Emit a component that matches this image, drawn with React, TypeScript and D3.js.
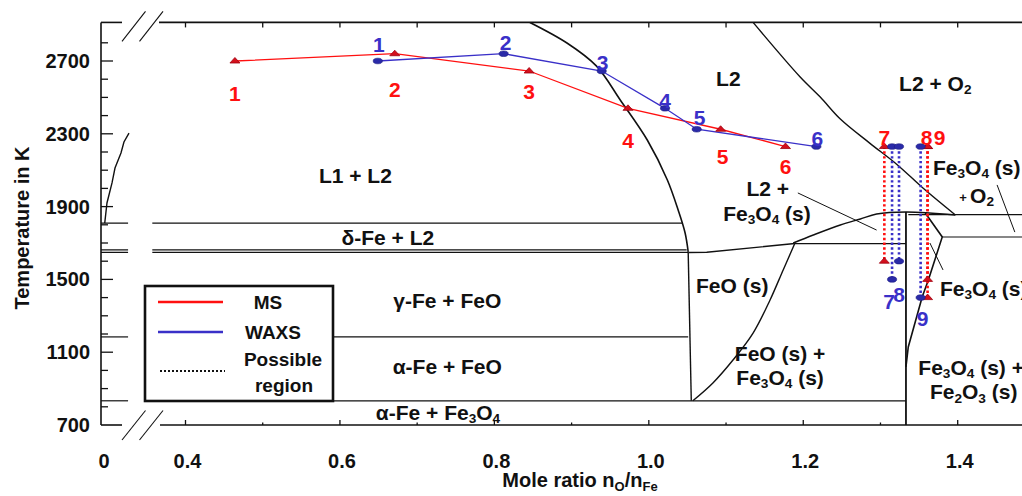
import React from "react"
import * as d3 from "d3"

type Pt = [number, number]

// measured points: mole ratio nO/nFe and temperature in K
const msRatio = [0.464, 0.671, 0.845, 0.973, 1.093, 1.177]
const msTemp = [2700, 2740, 2645, 2440, 2325, 2230]
const msLabels = ["1", "2", "3", "4", "5", "6"]
const waxsRatio = [0.649, 0.812, 0.939, 1.021, 1.062, 1.217]
const waxsTemp = [2700, 2740, 2645, 2440, 2325, 2230]
const waxsLabels = ["1", "2", "3", "4", "5", "6"]

// points 7-9 only give a possible region (upper / lower temperature)
const msRangeLabels = ["7", "8", "9"]
const msRangeRatio = [1.305, 1.361, 1.361]
const msRangeHigh = [2230, 2230, 2230]
const msRangeLow = [1600, 1500, 1400]
const waxsRangeLabels = ["7", "8", "9"]
const waxsRangeRatio = [1.315, 1.324, 1.352]
const waxsRangeHigh = [2230, 2230, 2230]
const waxsRangeLow = [1500, 1600, 1400]

// phase boundaries of the Fe-O diagram
const l1Liquidus: Pt[] = [[0.004, 1809], [0.0064, 1920], [0.0118, 2030], [0.015, 2112], [0.0214, 2195], [0.0246, 2255], [0.03, 2304]]
const l1l2Boundary: Pt[] = [[0.846, 2912], [0.894, 2799], [0.932, 2673], [0.963, 2486], [0.998, 2266], [1.024, 2046], [1.038, 1881], [1.047, 1755], [1.051, 1651]]
const l2O2Boundary: Pt[] = [[1.135, 2912], [1.196, 2612], [1.222, 2502], [1.248, 2381], [1.286, 2249], [1.322, 2129], [1.355, 2002], [1.397, 1854]]
const fe3o4Liquidus: Pt[] = [[1.187, 1700], [1.213, 1744], [1.248, 1799], [1.274, 1832], [1.295, 1859], [1.333, 1870], [1.397, 1854]]
const feoLiquidus: Pt[] = [[1.051, 1648], [1.075, 1649], [1.189, 1697]]
const wustiteOSide: Pt[] = [[1.189, 1697], [1.174, 1552], [1.157, 1387], [1.135, 1205], [1.109, 1057], [1.083, 931], [1.057, 833]]
const wustiteFeSide: Pt[] = [[1.051, 1648], [1.055, 833]]
const magnetiteOSide: Pt[] = [[1.358, 1865], [1.38, 1733], [1.362, 1497], [1.354, 1403], [1.336, 1129], [1.333, 1019]]
const magnetite: Pt[] = [[1.333, 1870], [1.333, 700]]

// isotherms: temperature, ratio start, ratio end
const isoTemp = [1809, 1662, 1648, 1184, 833, 1697, 1856, 1733]
const isoFrom = [0.357, 0.357, 0.357, 0.357, 0.357, 1.189, 1.336, 1.38]
const isoTo = [1.043, 1.049, 1.051, 1.051, 1.333, 1.333, 1.5, 1.5]
const leftIso = [1809, 1662, 1648, 1184, 833]

// leader lines from labels to their phase field
const leaders: Pt[][] = [
  [[1.193, 1975], [1.295, 1771]],
  [[1.451, 2019], [1.474, 1760]],
  [[1.364, 1700], [1.381, 1552]],
]

// phase field names ("_{..}" is a subscript)
const regionText = ["L2", "L2 + O_{2}", "L1 + L2", "δ-Fe + L2", "γ-Fe + FeO", "α-Fe + FeO", "α-Fe + Fe_{3}O_{4}", "FeO (s)", "FeO (s) +", "Fe_{3}O_{4} (s)", "L2 +", "Fe_{3}O_{4} (s)", "Fe_{3}O_{4} (s)", "O_{2}", "Fe_{3}O_{4} (s)", "Fe_{3}O_{4} (s) +", "Fe_{2}O_{3} (s)"]
const regionRatio = [1.103, 1.371, 0.62, 0.662, 0.739, 0.739, 0.727, 1.108, 1.17, 1.17, 1.154, 1.153, 1.368, 1.416, 1.377, 1.349, 1.364]
const regionTemp = [2607, 2579, 2074, 1733, 1387, 1024, 771, 1469, 1096, 964, 2002, 1865, 2118, 1964, 1453, 1020, 885]
const regionAnchor = ["middle", "middle", "middle", "middle", "middle", "middle", "middle", "middle", "middle", "middle", "middle", "middle", "start", "start", "start", "start", "start"]

const xTickValues = d3.range(4, 16).map((d) => d / 10)
const xLabelValues = [0.4, 0.6, 0.8, 1.0, 1.2, 1.4]
const yTickValues = d3.range(800, 2900, 100)
const yLabelValues = [700, 1100, 1500, 1900, 2300, 2700]

// layout
const W = 1022
const H = 496
const FONT = "'Liberation Sans', Arial, sans-serif"
const RED = "#ff1010"
const BLUE = "#3a30c8"

const x = d3.scaleLinear().domain([0.4, 1.4]).range([185.5, 957.7])
const xL = d3.scaleLinear().domain([0, 0.03]).range([101, 129])
const y = d3.scaleLinear().domain([700, 2700]).range([425, 61])
const left = 101
const top = y(2912)
const bottom = y(700)

const msLabelDx = [0, 0, 0, 0, 2, 0]
const msLabelDy = [32, 36, 20, 32, 27, 20]
const waxsLabelDx = [1, 2, 1, 0, 3, 1]
const waxsLabelDy = [-17, -11, -9, -8, -12, -8]
const msRangeDx = [0, -1, 12]
const waxsRangeDx = [-3, 0, 2]
const waxsRangeDy = [22, 33, 21]

const line = d3.line<Pt>().x((d) => x(d[0])).y((d) => y(d[1]))
const smooth = d3.line<Pt>().x((d) => x(d[0])).y((d) => y(d[1])).curve(d3.curveCatmullRom)
const lineL = d3.line<Pt>().x((d) => xL(d[0])).y((d) => y(d[1]))

const Rich = ({ s, fs }: { s: string; fs: number }) => {
  const parts = s.match(/_\{[^}]*\}|[^_]+/g) || []
  let shifted = false
  return (
    <>
      {parts.map((p, i) => {
        if (p.startsWith("_{")) {
          const dy = shifted ? 0 : fs * 0.3
          shifted = true
          return <tspan key={i} fontSize={fs * 0.65} dy={dy}>{p.slice(2, -1)}</tspan>
        }
        const dy = shifted ? -fs * 0.3 : 0
        shifted = false
        return <tspan key={i} dy={dy}>{p}</tspan>
      })}
    </>
  )
}

const Triangle = ({ cx, cy }: { cx: number; cy: number }) => (
  <path d={`M${cx - 5},${cy + 2} L${cx},${cy - 3.5} L${cx + 5},${cy + 2} Z`} fill="#d4101c" stroke="#a00010" strokeWidth={0.8} />
)
const Dot = ({ cx, cy }: { cx: number; cy: number }) => (
  <ellipse cx={cx} cy={cy} rx={4.6} ry={2.8} fill="#2a2aa8" stroke="#1a1a80" strokeWidth={0.6} />
)

const App: React.FC = () => {
  const msPts: Pt[] = msRatio.map((r, i) => [r, msTemp[i]])
  const waxsPts: Pt[] = waxsRatio.map((r, i) => [r, waxsTemp[i]])

  return (
    <svg width={W} height={H} style={{ position: "absolute", left: 0, top: 0, background: "#fff" }} fontFamily={FONT} fontWeight="bold">
      <defs>
        <clipPath id="plot-clip">
          <rect x={left} y={top} width={W - left} height={bottom - top} />
        </clipPath>
      </defs>

      {/* phase diagram */}
      <g clipPath="url(#plot-clip)" fill="none" stroke="#111" strokeWidth={1.4}>
        {isoTemp.map((t, i) => (
          <line key={"iso" + i} x1={x(isoFrom[i])} x2={x(isoTo[i])} y1={y(t)} y2={y(t)} strokeWidth={1.2} />
        ))}
        {leftIso.map((t, i) => (
          <line key={"liso" + i} x1={xL(0)} x2={xL(0.029)} y1={y(t)} y2={y(t)} strokeWidth={1.2} />
        ))}
        <path d={lineL(l1Liquidus) || ""} />
        <path d={smooth(l1l2Boundary) || ""} strokeWidth={1.6} />
        <path d={smooth(l2O2Boundary) || ""} strokeWidth={1.4} />
        <path d={smooth(fe3o4Liquidus) || ""} />
        <path d={line(feoLiquidus) || ""} />
        <path d={smooth(wustiteOSide) || ""} />
        <path d={line(wustiteFeSide) || ""} />
        <path d={line(magnetiteOSide) || ""} strokeWidth={1.6} />
        <path d={line(magnetite) || ""} strokeWidth={1.8} />
        {leaders.map((l, i) => (
          <path key={"ld" + i} d={line(l) || ""} strokeWidth={1} />
        ))}
      </g>

      {/* axes */}
      <g stroke="#111" strokeWidth={1.6} fill="none">
        <line x1={left} x2={left} y1={top} y2={bottom} />
        <line x1={left} x2={122} y1={top} y2={top} />
        <line x1={159} x2={W} y1={top} y2={top} />
        <line x1={left} x2={122} y1={bottom} y2={bottom} />
        <line x1={160} x2={W} y1={bottom} y2={bottom} />
        <line x1={122} y1={top + 19} x2={145.5} y2={top - 11} strokeWidth={1.1} />
        <line x1={139.5} y1={top + 19} x2={163} y2={top - 11} strokeWidth={1.1} />
        <line x1={122} y1={bottom + 15} x2={145.5} y2={bottom - 14.5} strokeWidth={1.1} />
        <line x1={139.5} y1={bottom + 15} x2={163} y2={bottom - 14.5} strokeWidth={1.1} />
        {yTickValues.map((t) => (
          <line key={"yt" + t} x1={left} x2={left + ((t - 700) % 400 === 0 ? 12 : 7)} y1={y(t)} y2={y(t)} strokeWidth={1.3} />
        ))}
        {xTickValues.map((v, i) => (
          <g key={"xt" + i}>
            <line x1={x(v)} x2={x(v)} y1={top} y2={top + 5} strokeWidth={1.3} />
            <line x1={x(v)} x2={x(v)} y1={bottom} y2={bottom - (i % 2 === 0 ? 5 : 2.5)} strokeWidth={1.3} />
          </g>
        ))}
      </g>

      <g fontSize={20} fill="#111">
        {yLabelValues.map((t) => (
          <text key={"yl" + t} x={90} y={y(t)} textAnchor="end" dominantBaseline="central">{t}</text>
        ))}
        <text x={104} y={461} textAnchor="middle" dominantBaseline="central">0</text>
        {xLabelValues.map((v) => (
          <text key={"xl" + v} x={x(v) + 2} y={461} textAnchor="middle" dominantBaseline="central">{v.toFixed(1)}</text>
        ))}
        <text transform={`translate(22,228) rotate(-90)`} textAnchor="middle" dominantBaseline="central">Temperature in K</text>
        <text x={580} y={480} textAnchor="middle" dominantBaseline="central">
          <Rich s="Mole ratio n_{O}/n_{Fe}" fs={20} />
        </text>
      </g>

      {/* phase field names */}
      <g fontSize={21} fill="#111">
        {regionText.map((s, i) => (
          <text key={"rg" + i} x={x(regionRatio[i])} y={y(regionTemp[i])} textAnchor={regionAnchor[i]} dominantBaseline="central">
            <Rich s={s} fs={21} />
          </text>
        ))}
        <text x={963} y={y(1964) + 3} fontSize={13} textAnchor="middle" dominantBaseline="central">+</text>
      </g>

      {/* legend */}
      <g>
        <rect x={145} y={286} width={188} height={115} fill="#fff" stroke="#111" strokeWidth={2.6} />
        <line x1={158} x2={223} y1={302} y2={302} stroke={RED} strokeWidth={2.6} />
        <line x1={158} x2={223} y1={332} y2={332} stroke={BLUE} strokeWidth={2.6} />
        <line x1={160} x2={225} y1={371} y2={371} stroke="#111" strokeWidth={2.2} strokeDasharray="2 2" />
        <g fontSize={19} fill="#111" textAnchor="middle" dominantBaseline="central">
          <text x={268} y={302}>MS</text>
          <text x={273} y={332}>WAXS</text>
          <text x={283} y={359}>Possible</text>
          <text x={284} y={385}>region</text>
        </g>
      </g>

      {/* measurement series */}
      <path d={line(msPts) || ""} fill="none" stroke={RED} strokeWidth={1.3} />
      <path d={line(waxsPts) || ""} fill="none" stroke={BLUE} strokeWidth={1.3} />

      {msRangeRatio.map((r, i) => (
        <line key={"msr" + i} x1={x(r)} x2={x(r)} y1={y(msRangeHigh[i])} y2={y(msRangeLow[i])} stroke={RED} strokeWidth={2.6} strokeDasharray="2.4 2.4" />
      ))}
      {waxsRangeRatio.map((r, i) => (
        <line key={"wxr" + i} x1={x(r)} x2={x(r)} y1={y(waxsRangeHigh[i])} y2={y(waxsRangeLow[i])} stroke={BLUE} strokeWidth={2.6} strokeDasharray="2.4 2.4" />
      ))}

      {msPts.map((p, i) => <Triangle key={"mst" + i} cx={x(p[0])} cy={y(p[1])} />)}
      {waxsPts.map((p, i) => <Dot key={"wxd" + i} cx={x(p[0])} cy={y(p[1])} />)}
      {msRangeRatio.map((r, i) => (
        <g key={"msm" + i}>
          <Triangle cx={x(r)} cy={y(msRangeHigh[i])} />
          <Triangle cx={x(r)} cy={y(msRangeLow[i])} />
        </g>
      ))}
      {waxsRangeRatio.map((r, i) => (
        <g key={"wxm" + i}>
          <Dot cx={x(r)} cy={y(waxsRangeHigh[i])} />
          <Dot cx={x(r)} cy={y(waxsRangeLow[i])} />
        </g>
      ))}

      {/* point numbers */}
      <g fontSize={21} textAnchor="middle" dominantBaseline="central">
        {msLabels.map((s, i) => (
          <text key={"msl" + i} x={x(msRatio[i]) + msLabelDx[i]} y={y(msTemp[i]) + msLabelDy[i]} fill={RED}>{s}</text>
        ))}
        {waxsLabels.map((s, i) => (
          <text key={"wxl" + i} x={x(waxsRatio[i]) + waxsLabelDx[i]} y={y(waxsTemp[i]) + waxsLabelDy[i]} fill={BLUE}>{s}</text>
        ))}
        {msRangeLabels.map((s, i) => (
          <text key={"mrl" + i} x={x(msRangeRatio[i]) + msRangeDx[i]} y={y(msRangeHigh[i]) - 9} fill={RED}>{s}</text>
        ))}
        {waxsRangeLabels.map((s, i) => (
          <text key={"wrl" + i} x={x(waxsRangeRatio[i]) + waxsRangeDx[i]} y={y(waxsRangeLow[i]) + waxsRangeDy[i]} fill={BLUE}>{s}</text>
        ))}
      </g>
    </svg>
  )
}

export default App
